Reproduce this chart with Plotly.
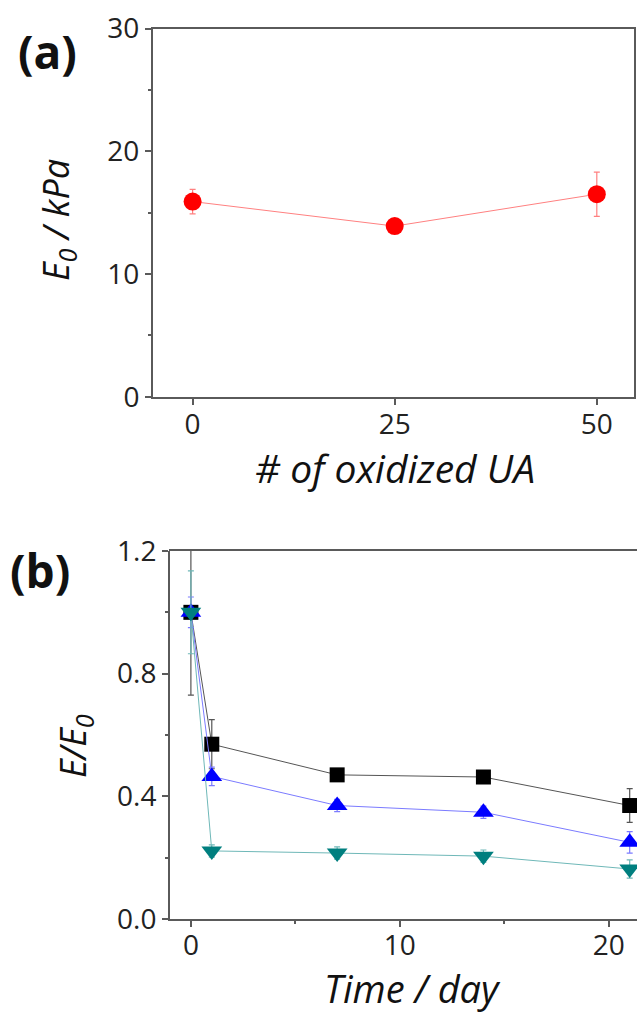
import plotly.graph_objects as go

# Panel (a): initial modulus vs number of oxidized UA
ua_count = [0, 25, 50]
e0_kpa = [15.9, 13.9, 16.5]
e0_err = [1.0, 0.3, 1.8]

# Panel (b): normalized modulus over time
days = [0, 1, 7, 14, 21]
ratio_black = [1.0, 0.57, 0.47, 0.463, 0.37]
err_black = [0.27, 0.08, 0.02, 0.02, 0.055]
ratio_blue = [1.0, 0.465, 0.37, 0.348, 0.25]
err_blue = [0.05, 0.03, 0.02, 0.02, 0.035]
ratio_teal = [1.0, 0.222, 0.215, 0.205, 0.163]
err_teal = [0.135, 0.02, 0.02, 0.02, 0.03]

W, H = 637, 1013
FONT = "Open Sans"
AXIS_COLOR = "#5a5a5a"
TICK_FONT = dict(family=FONT, size=28, color="#222222")

fig = go.Figure()

fig.add_trace(go.Scatter(
    x=ua_count, y=e0_kpa, xaxis="x", yaxis="y", mode="lines+markers",
    line=dict(color="#ff8080", width=1),
    marker=dict(color="#ff0000", size=18, symbol="circle"),
    error_y=dict(type="data", array=e0_err, color="#ff8080", thickness=1.2, width=3),
    showlegend=False,
))

series_b = [
    (ratio_black, err_black, "#000000", "#555555", "square", 15),
    (ratio_blue, err_blue, "#0000ff", "#7b7bff", "triangle-up", 18),
    (ratio_teal, err_teal, "#007f7f", "#6fb8b8", "triangle-down", 18),
]
for vals, errs, mcol, lcol, sym, size in series_b:
    fig.add_trace(go.Scatter(
        x=days, y=vals, xaxis="x2", yaxis="y2", mode="lines+markers",
        line=dict(color=lcol, width=1),
        marker=dict(color=mcol, size=size, symbol=sym),
        error_y=dict(type="data", array=errs, color=lcol, thickness=1.2, width=3),
        showlegend=False,
    ))


def axis_style(**kw):
    base = dict(
        showline=True, linecolor=AXIS_COLOR, linewidth=2, mirror=True,
        showgrid=False, zeroline=False, ticks="outside", ticklen=6,
        tickwidth=2, tickcolor=AXIS_COLOR, tickfont=TICK_FONT,
        automargin=False,
    )
    base.update(kw)
    return base


fig.update_layout(
    width=W, height=H,
    margin=dict(l=0, r=0, t=0, b=0, pad=0, autoexpand=False),
    paper_bgcolor="white", plot_bgcolor="white",
    xaxis=axis_style(
        domain=[153 / W, 634 / W], range=[-4.9, 54.6],
        tickvals=[0, 25, 50], anchor="y", ticklabelstandoff=-4,
    ),
    yaxis=axis_style(
        domain=[1 - 396.7 / H, 1 - 28.5 / H], range=[0, 30],
        tickvals=[0, 10, 20, 30], anchor="x",
        minor=dict(tickvals=[5, 15, 25], ticklen=3, tickwidth=2,
                   tickcolor=AXIS_COLOR, ticks="outside"),
    ),
    xaxis2=axis_style(
        domain=[170 / W, 1.0], range=[-1.0, 21.35],
        tickvals=[0, 10, 20], anchor="y2", mirror=False, ticklabelstandoff=-6,
        minor=dict(tickvals=[5, 15], ticklen=3, tickwidth=2,
                   tickcolor=AXIS_COLOR, ticks="outside"),
    ),
    yaxis2=axis_style(
        domain=[1 - 919 / H, 1 - 551 / H], range=[0, 1.2],
        tickvals=[0.0, 0.4, 0.8, 1.2], tickformat=".1f", anchor="x2",
        mirror=False,
        minor=dict(tickvals=[0.2, 0.6, 1.0], ticklen=3, tickwidth=2,
                   tickcolor=AXIS_COLOR, ticks="outside"),
    ),
)

# Top frame line of panel (b) without a right edge
fig.add_shape(type="line", xref="paper", yref="paper",
              x0=169 / W, x1=1.0, y0=1 - 550 / H, y1=1 - 550 / H,
              line=dict(color=AXIS_COLOR, width=2))

LABEL_COLOR = "#111111"
for text, px, py in [("<b>(a)</b>", 48, 51), ("<b>(b)</b>", 40, 570)]:
    fig.add_annotation(text=text, x=px / W, y=1 - py / H,
                       xref="paper", yref="paper", showarrow=False,
                       xanchor="center", yanchor="middle",
                       font=dict(family=FONT, size=46, color=LABEL_COLOR))

TITLE_FONT = dict(family=FONT, size=39, color=LABEL_COLOR)
fig.add_annotation(text="<i># of oxidized UA</i>", x=395 / W, y=1 - 467 / H,
                   xref="paper", yref="paper", showarrow=False,
                   xanchor="center", yanchor="middle", font=TITLE_FONT)
fig.add_annotation(text="<i>Time / day</i>", x=412 / W, y=1 - 988 / H,
                   xref="paper", yref="paper", showarrow=False,
                   xanchor="center", yanchor="middle",
                   font=dict(family=FONT, size=38, color=LABEL_COLOR))
fig.add_annotation(text="<i>E<sub>0</sub> / kPa</i>", x=58 / W, y=1 - 220 / H,
                   xref="paper", yref="paper", showarrow=False, textangle=-90,
                   xanchor="center", yanchor="middle",
                   font=dict(family=FONT, size=36, color=LABEL_COLOR))
fig.add_annotation(text="<i>E/E<sub>0</sub></i>", x=74 / W, y=1 - 746 / H,
                   xref="paper", yref="paper", showarrow=False, textangle=-90,
                   xanchor="center", yanchor="middle",
                   font=dict(family=FONT, size=36, color=LABEL_COLOR))

fig.write_html("out.html")
